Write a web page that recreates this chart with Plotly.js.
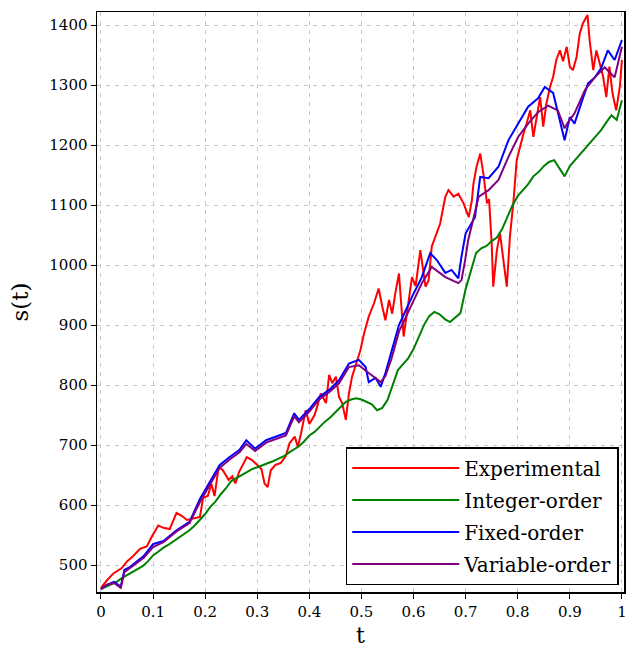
<!DOCTYPE html>
<html>
<head>
<meta charset="utf-8">
<script src="https://cdn.plot.ly/plotly-3.0.1.min.js"></script>
<style>html,body{margin:0;padding:0;background:#fff;}#chart{width:627px;height:649px;}</style>
</head>
<body>
<div id="chart"></div>
<script>
// ---- Data ----
const seriesNames = ["Experimental", "Integer-order", "Fixed-order", "Variable-order"];

const tExp = [0.000,0.012,0.024,0.040,0.050,0.062,0.075,0.088,0.098,0.110,0.120,0.132,0.145,0.155,0.165,0.180,0.190,0.196,0.205,0.212,0.218,0.226,0.234,0.245,0.252,0.258,0.265,0.280,0.290,0.308,0.314,0.320,0.326,0.335,0.345,0.355,0.362,0.372,0.378,0.384,0.393,0.400,0.410,0.415,0.422,0.432,0.438,0.444,0.451,0.457,0.463,0.470,0.476,0.482,0.492,0.498,0.505,0.514,0.524,0.533,0.540,0.546,0.553,0.559,0.565,0.572,0.581,0.588,0.597,0.604,0.613,0.623,0.629,0.635,0.651,0.661,0.667,0.677,0.686,0.696,0.706,0.712,0.715,0.721,0.728,0.734,0.741,0.745,0.750,0.753,0.760,0.766,0.772,0.779,0.785,0.792,0.798,0.804,0.811,0.817,0.824,0.830,0.836,0.843,0.849,0.855,0.862,0.868,0.874,0.881,0.887,0.894,0.900,0.906,0.913,0.919,0.925,0.934,0.938,0.945,0.951,0.957,0.964,0.970,0.976,0.982,0.989,0.996,1.000];
const experimental = [462,475,486,495,506,515,527,531,548,566,562,560,587,582,575,578,580,612,615,635,615,664,658,642,648,636,655,680,675,660,636,630,658,667,670,682,703,714,697,719,758,735,750,764,786,770,817,803,814,780,770,742,786,814,842,858,886,914,936,961,931,908,942,919,953,986,881,925,980,965,1025,964,975,1031,1069,1114,1125,1114,1119,1103,1080,1108,1136,1164,1186,1153,1103,1110,1036,964,1025,1053,1014,964,1047,1108,1175,1197,1219,1236,1258,1214,1247,1280,1231,1269,1297,1314,1342,1358,1340,1364,1331,1325,1347,1386,1403,1417,1375,1325,1358,1336,1314,1280,1331,1286,1258,1297,1342];

const tInt = [0.00,0.01,0.02,0.03,0.04,0.05,0.06,0.07,0.08,0.09,0.10,0.11,0.12,0.13,0.14,0.15,0.16,0.17,0.18,0.19,0.20,0.21,0.22,0.23,0.24,0.25,0.26,0.27,0.28,0.29,0.30,0.31,0.32,0.33,0.34,0.35,0.36,0.37,0.38,0.39,0.40,0.41,0.42,0.43,0.44,0.45,0.46,0.47,0.48,0.49,0.50,0.51,0.52,0.53,0.54,0.55,0.56,0.57,0.58,0.59,0.60,0.61,0.62,0.63,0.64,0.65,0.66,0.67,0.68,0.69,0.70,0.71,0.72,0.73,0.74,0.75,0.76,0.77,0.78,0.79,0.80,0.81,0.82,0.83,0.84,0.85,0.86,0.87,0.88,0.89,0.90,0.91,0.92,0.93,0.94,0.95,0.96,0.97,0.98,0.99,1.00];
const integerOrder = [460,464,468,472,478,483,488,493,498,506,516,522,529,534,540,545,551,558,566,575,585,597,606,618,628,640,645,650,656,660,663,666,669,673,677,681,687,693,698,706,716,722,731,739,746,755,763,772,776,778,776,772,768,758,762,775,800,825,835,845,860,880,900,915,922,918,910,905,912,920,960,990,1020,1028,1032,1040,1046,1060,1080,1100,1115,1125,1135,1148,1155,1165,1172,1175,1162,1148,1165,1175,1185,1195,1205,1215,1225,1238,1250,1242,1275];

const tFix = [0.000,0.011,0.025,0.038,0.045,0.056,0.082,0.100,0.120,0.145,0.170,0.190,0.208,0.228,0.247,0.266,0.279,0.296,0.317,0.336,0.355,0.371,0.380,0.400,0.419,0.438,0.457,0.476,0.495,0.508,0.514,0.527,0.537,0.546,0.558,0.572,0.597,0.616,0.632,0.645,0.661,0.673,0.686,0.692,0.700,0.718,0.728,0.744,0.763,0.782,0.801,0.820,0.839,0.852,0.868,0.883,0.890,0.900,0.909,0.922,0.935,0.948,0.960,0.973,0.986,1.000];
const fixedOrder = [460,467,472,464,492,497,515,535,540,558,572,610,637,667,680,692,708,694,708,714,720,753,742,760,780,792,808,836,842,830,805,812,797,820,858,900,947,980,1020,1008,987,992,978,1014,1053,1080,1147,1145,1164,1208,1236,1264,1278,1297,1287,1236,1208,1247,1236,1270,1303,1313,1328,1358,1342,1375];

const tVar = [0.000,0.011,0.025,0.038,0.045,0.056,0.082,0.100,0.120,0.145,0.170,0.190,0.208,0.228,0.247,0.266,0.279,0.296,0.317,0.336,0.355,0.371,0.380,0.400,0.419,0.438,0.457,0.476,0.495,0.514,0.527,0.537,0.546,0.558,0.572,0.597,0.616,0.635,0.661,0.686,0.692,0.699,0.705,0.725,0.744,0.763,0.782,0.801,0.820,0.839,0.858,0.877,0.890,0.895,0.909,0.929,0.948,0.967,0.986,1.000];
const variableOrder = [460,467,470,462,488,495,512,530,538,556,570,605,633,662,676,688,702,690,704,710,716,748,738,756,776,788,803,830,833,820,812,805,815,845,889,935,970,997,980,970,975,1008,1042,1114,1125,1142,1180,1214,1236,1255,1266,1258,1228,1236,1253,1292,1313,1330,1313,1364];

const xTicks = [0,0.1,0.2,0.3,0.4,0.5,0.6,0.7,0.8,0.9,1];
const yTicks = [500,600,700,800,900,1000,1100,1200,1300,1400];

// ---- Traces ----
const colors = ["#ff0000", "#008000", "#0000ff", "#800080"];
const xs = [tExp, tInt, tFix, tVar];
const ys = [experimental, integerOrder, fixedOrder, variableOrder];
const traces = seriesNames.map((n, i) => ({
  type: "scatter", mode: "lines", name: n, legendgroup: "g" + i,
  x: xs[i], y: ys[i],
  line: {color: colors[i], width: 2}
}));

const serif = "DejaVu Serif";
const layout = {
  width: 627, height: 649,
  margin: {l: 97, r: 3, t: 12, b: 57},
  paper_bgcolor: "#fff", plot_bgcolor: "#fff",
  font: {family: serif, color: "#000", size: 15},
  showlegend: true,
  legend: {
    x: 0.99, xanchor: "right", y: 0.012, yanchor: "bottom",
    bgcolor: "#fff", bordercolor: "#000", borderwidth: 1.5,
    font: {family: serif, size: 20, color: "#000"},
    itemwidth: 107, tracegroupgap: 3
  },
  xaxis: {
    range: [-0.0076, 1.004],
    tickvals: xTicks, ticktext: xTicks.map(String),
    ticks: "outside", ticklen: 5, tickcolor: "#000",
    ticklabeloverflow: "allow",
    showline: true, linecolor: "#000", linewidth: 1.5, mirror: true,
    showgrid: true, gridcolor: "#c8c8c8", griddash: "4px,5px", gridwidth: 1,
    zeroline: false,
    tickfont: {family: serif, size: 15},
    title: {text: "t", font: {family: serif, size: 22}, standoff: 8}
  },
  yaxis: {
    range: [455, 1422],
    tickvals: yTicks,
    ticks: "outside", ticklen: 5, tickcolor: "#000",
    showline: true, linecolor: "#000", linewidth: 1.5, mirror: true,
    showgrid: true, gridcolor: "#c8c8c8", griddash: "4px,5px", gridwidth: 1,
    zeroline: false,
    tickfont: {family: serif, size: 15},
    title: {text: "s(t)", font: {family: serif, size: 23}, standoff: 14}
  }
};
Plotly.newPlot("chart", traces, layout, {staticPlot: true, displayModeBar: false});
</script>
</body>
</html>
